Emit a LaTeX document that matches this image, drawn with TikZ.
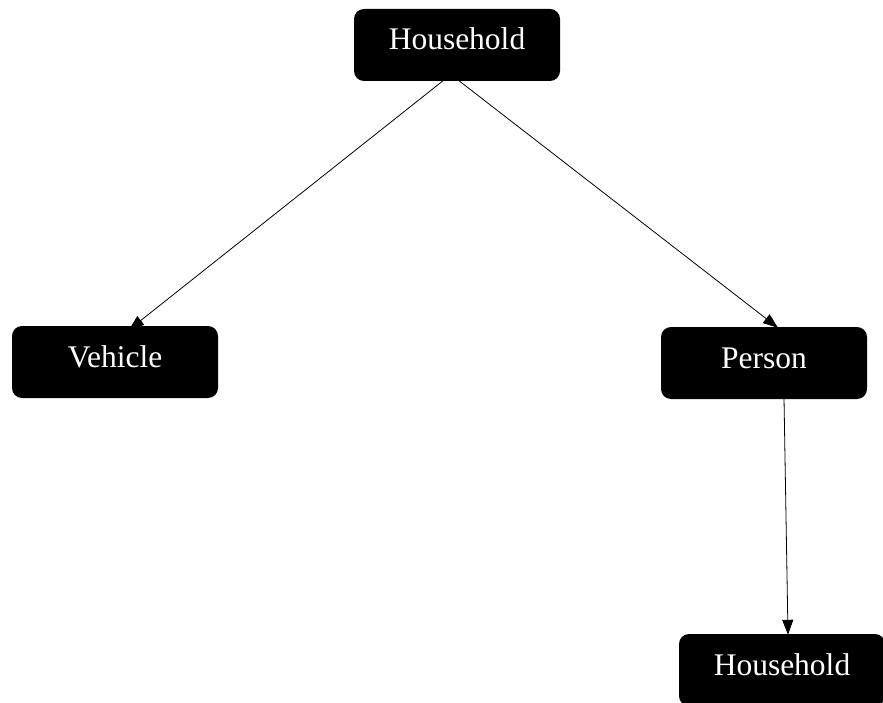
\documentclass[tikz,border=0pt]{standalone}
\usepackage{fontspec}
\setmainfont{Liberation Serif}
\usetikzlibrary{arrows.meta}
\begin{document}
\begin{tikzpicture}[x=1pt,y=-1pt,
  entity/.style={fill=black, text=white, rounded corners=10pt, inner sep=0pt,
    minimum width=206pt, minimum height=72pt, text height=20pt, text depth=10pt,
    font=\fontsize{31.5}{36}\selectfont},
  link/.style={line width=0.8pt, -{Triangle[length=15pt,width=11pt]}}]
\useasboundingbox (0,0) rectangle (883,703);
\node[entity] (hh) at (457,45) {Household};
\node[entity] (veh) at (115,362) {Vehicle};
\node[entity] (per) at (764,363) {Person};
\node[entity] (hh2) at (782,670) {Household};
\draw[link] ([xshift=-12pt,yshift=2pt]hh.south) -- ([xshift=14pt,yshift=-4pt]veh.north);
\draw[link] ([xshift=0pt,yshift=2pt]hh.south) -- ([xshift=14pt,yshift=-1pt]per.north);
\draw[link] ([xshift=20pt,yshift=1pt]per.south) -- ([xshift=6pt,yshift=-1pt]hh2.north);
\end{tikzpicture}
\end{document}
